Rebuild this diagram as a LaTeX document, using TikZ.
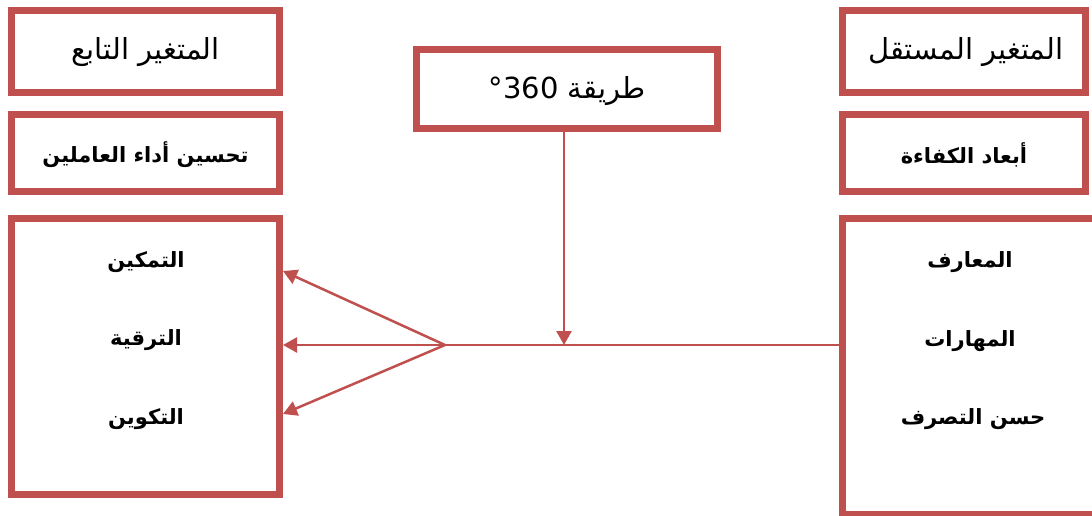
\documentclass[tikz,border=0pt]{standalone}
\usepackage{fontspec}
\usetikzlibrary{arrows.meta}
\TeXXeTstate=1
\newfontfamily\ar[Script=Arabic]{DejaVu Sans}
\definecolor{boxred}{HTML}{C0504D}
\tikzset{
  frame/.style={draw=boxred, line width=7pt, rectangle, inner sep=0pt, fill=white},
  reg/.style={font=\ar\fontsize{29}{34}\selectfont, text=black},
  bld/.style={font=\ar\bfseries\fontsize{21}{25}\selectfont, text=black},
  conn/.style={draw=boxred, line width=2.5pt},
  arr/.style={conn, -{Triangle[length=14pt,width=15pt]}}
}
\begin{document}
\begin{tikzpicture}[x=1pt,y=-1pt]
\useasboundingbox (0,0) rectangle (1092,516);
\clip (0,0) rectangle (1092,516);
% left column
\node[frame, minimum width=268pt, minimum height=82pt] (L1) at (145.5,51.5) {};
\node[reg] (L1t) at (145.5,52) {\beginR المتغير التابع\endR};
\node[frame, minimum width=268pt, minimum height=77pt] (L2) at (145.5,153) {};
\node[bld] (L2t) at (145.5,155) {\beginR تحسين أداء العاملين\endR};
\node[frame, minimum width=268pt, minimum height=276pt] (L3) at (145.5,356.5) {};
\node[bld] (La) at (146,262) {\beginR التمكين\endR};
\node[bld] (Lb) at (146,340) {\beginR الترقية\endR};
\node[bld] (Lc) at (146,419) {\beginR التكوين\endR};
% right column
\node[frame, minimum width=243pt, minimum height=82pt] (R1) at (964,51.5) {};
\node[reg] (R1t) at (966,52) {\beginR المتغير المستقل\endR};
\node[frame, minimum width=243pt, minimum height=77pt] (R2) at (964,153) {};
\node[bld] (R2t) at (964,155) {\beginR أبعاد الكفاءة\endR};
\node[frame, minimum width=270pt, minimum height=296pt] (R3) at (977.5,366.5) {};
\node[bld] (Ra) at (970,262) {\beginR المعارف\endR};
\node[bld] (Rb) at (970,341) {\beginR المهارات\endR};
\node[bld] (Rc) at (973,419) {\beginR حسن التصرف\endR};
% middle
\node[frame, minimum width=301pt, minimum height=79pt] (M) at (567,89) {};
\node[reg] (Mt) at (567,91) {\beginR طريقة \beginL 360\endL °\endR};
% connectors
\coordinate (apex) at (445,345);
\coordinate (join) at (564,345);
\coordinate (t1) at (283,271);
\coordinate (t2) at (283,345);
\coordinate (t3) at (283,414);
\draw[conn] (R3.west |- apex) -- (apex);
\draw[arr] (M.south -| join) -- (join);
\draw[arr] (apex) -- (t1);
\draw[arr] (apex) -- (t2);
\draw[arr] (apex) -- (t3);
\end{tikzpicture}
\end{document}
